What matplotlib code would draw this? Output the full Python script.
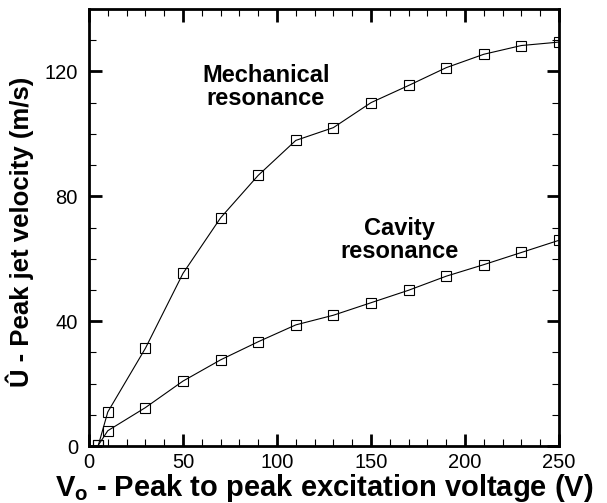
import matplotlib
matplotlib.use("Agg")
import matplotlib.pyplot as plt
from matplotlib.ticker import MultipleLocator

plt.rcParams["font.family"] = ["Liberation Sans", "DejaVu Sans"]
plt.rcParams["mathtext.fontset"] = "custom"
plt.rcParams["mathtext.bf"] = "Liberation Sans:bold"
plt.rcParams["mathtext.rm"] = "Liberation Sans"

# excitation voltage (V)
voltage = [5, 10, 30, 50, 70, 90, 110, 130, 150, 170, 190, 210, 230, 250]
# peak jet velocity (m/s)
mech_velocity = [0.3, 10.9, 31.3, 55.3, 73.1, 86.7, 97.9, 102.0, 110.0, 115.5, 121.2, 125.5, 128.3, 129.4]
cavity_velocity = [0.3, 4.9, 12.3, 20.8, 27.6, 33.4, 38.8, 41.9, 45.9, 49.9, 54.4, 58.1, 62.0, 65.9]

fig = plt.figure(figsize=(6.07, 5.03), dpi=100)
ax = fig.add_axes([0.1466, 0.1133, 0.7743, 0.8688])

line_kw = dict(color="black", lw=0.8, marker="s", markersize=6.5,
               markerfacecolor="none", markeredgecolor="black", markeredgewidth=0.8)
ax.plot(voltage, mech_velocity, **line_kw)
ax.plot(voltage, cavity_velocity, **line_kw)

ax.set_xlim(0, 250)
ax.set_ylim(0, 140)
ax.xaxis.set_major_locator(MultipleLocator(50))
ax.xaxis.set_minor_locator(MultipleLocator(10))
ax.yaxis.set_major_locator(MultipleLocator(40))
ax.yaxis.set_minor_locator(MultipleLocator(10))

ax.tick_params(which="both", direction="in", top=True, right=True)
ax.tick_params(which="major", length=9, width=2.0, labelsize=14.5)
ax.tick_params(which="minor", length=5, width=0.8)
ax.tick_params(axis="x", which="major", pad=5)
ax.tick_params(axis="y", which="major", pad=8)
for spine in ax.spines.values():
    spine.set_linewidth(2.0)

ax.set_xlabel(r"V$_\mathbf{o}$ - Peak to peak excitation voltage (V)",
              fontsize=21, fontweight="bold", labelpad=0)
ax.set_ylabel("Û - Peak jet velocity (m/s)", fontsize=18.5, fontweight="bold")
ax.yaxis.set_label_coords(-0.118, 0.49)

ax.text(94, 115, "Mechanical\nresonance", fontsize=17, fontweight="bold",
        ha="center", va="center", linespacing=1.0)
ax.text(165, 66, "Cavity\nresonance", fontsize=17, fontweight="bold",
        ha="center", va="center", linespacing=1.0)

fig.savefig("out.png", dpi=100)
